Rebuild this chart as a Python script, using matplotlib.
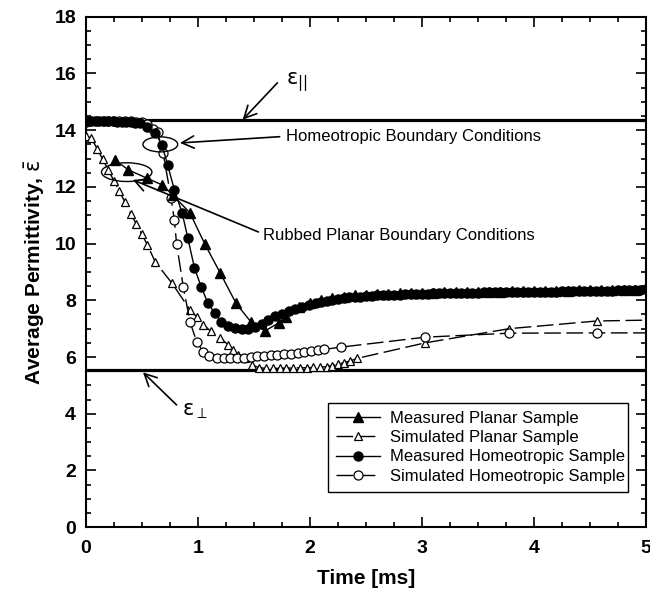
import matplotlib
matplotlib.use("Agg")
import matplotlib.pyplot as plt
from matplotlib.patches import Ellipse
from matplotlib.ticker import MultipleLocator

plt.rcParams["font.family"] = ["Liberation Sans", "DejaVu Sans"]
plt.rcParams["mathtext.fontset"] = "dejavusans"

# reference levels
eps_par = 14.37
eps_perp = 5.54

# Measured planar sample (filled triangles)
mp_t = [0.26, 0.38, 0.55, 0.68, 0.78, 0.93, 1.06, 1.20, 1.34, 1.47, 1.60, 1.72, 1.79,
        1.90, 2.00, 2.10, 2.20, 2.30, 2.40, 2.50, 2.60, 2.70, 2.80, 2.90, 3.00, 3.10,
        3.20, 3.30, 3.40, 3.50, 3.60, 3.70, 3.80, 3.90, 4.00, 4.10, 4.20, 4.30, 4.40,
        4.50, 4.60, 4.70, 4.80, 4.90, 5.00]
mp_e = [12.95, 12.60, 12.30, 12.07, 11.70, 11.08, 10.00, 8.96, 7.90, 7.25, 6.92, 7.20, 7.40,
        7.78, 7.92, 8.02, 8.08, 8.13, 8.17, 8.19, 8.21, 8.23, 8.24, 8.25, 8.26, 8.27,
        8.28, 8.29, 8.29, 8.30, 8.31, 8.31, 8.32, 8.32, 8.33, 8.33, 8.34, 8.34, 8.35,
        8.35, 8.36, 8.36, 8.37, 8.38, 8.42]

# Simulated planar sample (open triangles)
sp_t = [0.00, 0.05, 0.10, 0.15, 0.20, 0.25, 0.30, 0.35, 0.40, 0.45, 0.50, 0.55, 0.62,
        0.77, 0.93, 0.99, 1.05, 1.12, 1.20, 1.27, 1.31, 1.36, 1.42, 1.48, 1.55, 1.61,
        1.67, 1.73, 1.79, 1.85, 1.91, 1.97, 2.03, 2.09, 2.15, 2.20, 2.25, 2.30, 2.36,
        2.42, 3.03, 3.78, 4.56, 5.00]
sp_e = [13.78, 13.72, 13.35, 12.98, 12.60, 12.22, 11.85, 11.45, 11.05, 10.70, 10.33, 9.95, 9.35,
        8.60, 7.66, 7.42, 7.13, 6.90, 6.67, 6.43, 6.25, 6.07, 5.97, 5.72, 5.62, 5.60,
        5.60, 5.60, 5.61, 5.61, 5.62, 5.62, 5.63, 5.64, 5.66, 5.70, 5.74, 5.80, 5.86,
        5.95, 6.50, 7.00, 7.27, 7.30]

# Measured homeotropic sample (filled circles)
mh_t = [0.00, 0.04, 0.08, 0.12, 0.16, 0.20, 0.24, 0.28, 0.32, 0.36, 0.40, 0.44, 0.48,
        0.55, 0.62, 0.68, 0.73, 0.79, 0.86, 0.91, 0.97, 1.03, 1.09, 1.15, 1.21, 1.27,
        1.33, 1.39, 1.45, 1.51, 1.57, 1.63, 1.69, 1.75, 1.81, 1.87, 1.93, 1.99, 2.05,
        2.10, 2.15, 2.20, 2.25, 2.30, 2.35, 2.40, 2.45, 2.50, 2.55, 2.60, 2.65, 2.70,
        2.75, 2.80, 2.85, 2.90, 2.95, 3.00, 3.05, 3.10, 3.15, 3.20, 3.25, 3.30, 3.35,
        3.40, 3.45, 3.50, 3.55, 3.60, 3.65, 3.70, 3.75, 3.80, 3.85, 3.90, 3.95, 4.00,
        4.05, 4.10, 4.15, 4.20, 4.25, 4.30, 4.35, 4.40, 4.45, 4.50, 4.55, 4.60, 4.65,
        4.70, 4.75, 4.80, 4.85, 4.90, 4.95, 5.00]
mh_e = [14.30, 14.31, 14.31, 14.31, 14.31, 14.31, 14.31, 14.30, 14.30, 14.30, 14.29, 14.27, 14.24,
        14.12, 13.90, 13.48, 12.78, 11.90, 11.08, 10.20, 9.14, 8.47, 7.90, 7.55, 7.24, 7.10,
        7.02, 6.98, 6.99, 7.05, 7.15, 7.30, 7.43, 7.53, 7.62, 7.70, 7.78, 7.85, 7.90,
        7.94, 7.98, 8.02, 8.05, 8.08, 8.10, 8.12, 8.13, 8.15, 8.16, 8.17, 8.18, 8.19,
        8.20, 8.20, 8.21, 8.22, 8.22, 8.23, 8.23, 8.24, 8.24, 8.25, 8.25, 8.26, 8.26,
        8.27, 8.27, 8.27, 8.28, 8.28, 8.28, 8.29, 8.29, 8.29, 8.30, 8.30, 8.30, 8.30,
        8.31, 8.31, 8.31, 8.31, 8.32, 8.32, 8.32, 8.32, 8.33, 8.33, 8.33, 8.34, 8.34,
        8.34, 8.35, 8.35, 8.36, 8.36, 8.37, 8.40]

# Simulated homeotropic sample (open circles)
sh_t = [0.00, 0.05, 0.10, 0.15, 0.20, 0.25, 0.30, 0.35, 0.40, 0.45, 0.50, 0.55, 0.60,
        0.64, 0.69, 0.76, 0.79, 0.81, 0.87, 0.93, 0.99, 1.05, 1.10, 1.17, 1.23, 1.29,
        1.35, 1.41, 1.47, 1.53, 1.59, 1.65, 1.71, 1.77, 1.83, 1.89, 1.95, 2.01, 2.07,
        2.13, 2.28, 3.03, 3.78, 4.56, 5.00]
sh_e = [14.32, 14.32, 14.32, 14.32, 14.32, 14.32, 14.32, 14.32, 14.31, 14.30, 14.28, 14.22, 14.05,
        13.93, 13.20, 11.62, 10.84, 10.00, 8.47, 7.24, 6.53, 6.17, 6.03, 5.98, 5.96, 5.96,
        5.97, 5.98, 6.00, 6.02, 6.04, 6.06, 6.08, 6.10, 6.12, 6.14, 6.17, 6.20, 6.24,
        6.27, 6.35, 6.70, 6.84, 6.85, 6.85]

fig, ax = plt.subplots(figsize=(6.5, 5.99), dpi=100)
fig.subplots_adjust(left=0.132, right=0.994, top=0.972, bottom=0.120)

ax.axhline(eps_par, color="black", lw=2.3, zorder=1)
ax.axhline(eps_perp, color="black", lw=2.3, zorder=1)

ax.plot(sp_t, sp_e, color="black", lw=1.0, dashes=[12, 4], marker="^", ms=6,
        mfc="white", mec="black", mew=0.9, markevery=list(range(len(sp_t) - 1)),
        label="Simulated Planar Sample", zorder=3)
ax.plot(sh_t, sh_e, color="black", lw=1.0, dashes=[12, 4], marker="o", ms=6.5,
        mfc="white", mec="black", mew=0.9, markevery=list(range(len(sh_t) - 1)),
        label="Simulated Homeotropic Sample", zorder=3)
ax.plot(mh_t, mh_e, color="black", lw=1.0, marker="o", ms=6.5, mfc="black", mec="black",
        label="Measured Homeotropic Sample", zorder=4)
ax.plot(mp_t, mp_e, color="black", lw=1.0, marker="^", ms=7, mfc="black", mec="black",
        label="Measured Planar Sample", zorder=4)

# ellipses marking the boundary conditions
ax.add_patch(Ellipse((0.665, 13.50), 0.31, 0.53, fill=False, ec="black", lw=1.0, zorder=5))
ax.add_patch(Ellipse((0.365, 12.52), 0.45, 0.66, fill=False, ec="black", lw=1.0, zorder=5))

arrow = dict(arrowstyle="->", color="black", lw=1.2, mutation_scale=22, shrinkA=0, shrinkB=0)
ax.annotate("", xy=(1.40, eps_par), xytext=(1.71, 15.67), arrowprops=arrow)
ax.text(1.79, 15.70, r"$\mathrm{\varepsilon}_{||}$", fontsize=15, va="center")
ax.annotate("", xy=(0.84, 13.55), xytext=(1.73, 13.77), arrowprops=arrow)
ax.text(1.79, 13.77, "Homeotropic Boundary Conditions", fontsize=12, va="center")
ax.annotate("", xy=(0.42, 12.25), xytext=(1.54, 10.41), arrowprops=arrow)
ax.text(1.58, 10.27, "Rubbed Planar Boundary Conditions", fontsize=12, va="center")
ax.annotate("", xy=(0.51, 5.46), xytext=(0.81, 4.31), arrowprops=arrow)
ax.text(0.86, 4.10, r"$\mathrm{\varepsilon}_{\perp}$", fontsize=15, va="center")

ax.set_xlim(0, 5)
ax.set_ylim(0, 18)
ax.xaxis.set_major_locator(MultipleLocator(1))
ax.xaxis.set_minor_locator(MultipleLocator(0.25))
ax.yaxis.set_major_locator(MultipleLocator(2))
ax.yaxis.set_minor_locator(MultipleLocator(0.5))
ax.tick_params(which="both", direction="in", top=True, right=True, width=1.2)
ax.tick_params(which="major", length=7, labelsize=14)
ax.tick_params(axis="x", which="major", pad=9)
ax.tick_params(axis="y", which="major", pad=7)
ax.tick_params(which="minor", length=3.5)
for lbl in ax.get_xticklabels() + ax.get_yticklabels():
    lbl.set_fontweight("bold")
for sp in ax.spines.values():
    sp.set_linewidth(1.5)

ax.set_xlabel("Time [ms]", fontsize=15, fontweight="bold", labelpad=9)
ax.set_ylabel(r"Average Permittivity, $\bar{\mathrm{\varepsilon}}$", fontsize=15,
              fontweight="bold", labelpad=5)

h, l = ax.get_legend_handles_labels()
order = [3, 0, 2, 1]
leg = ax.legend([h[i] for i in order], [l[i] for i in order], loc="lower left",
                bbox_to_anchor=(0.432, 0.069, 0.536, 0.19), mode="expand",
                fontsize=12, frameon=True, fancybox=False, edgecolor="black",
                framealpha=1, borderaxespad=0, handlelength=2.6, labelspacing=0.25,
                handletextpad=0.6, borderpad=0.5)
leg.get_frame().set_linewidth(1.0)

fig.savefig("out.png", dpi=100)
